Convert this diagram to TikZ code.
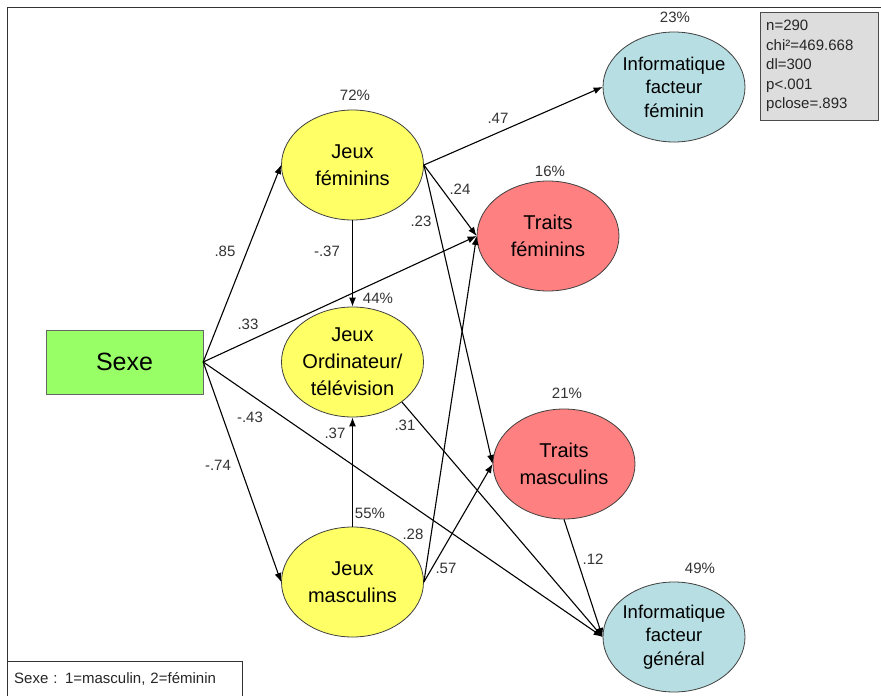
\documentclass[tikz,border=0pt]{standalone}
\usepackage{fontspec}
\setmainfont{Liberation Sans}
\usetikzlibrary{shapes.geometric,arrows.meta}
\definecolor{yel}{RGB}{255,255,102}
\definecolor{pinkred}{RGB}{255,128,128}
\definecolor{lblue}{RGB}{183,222,226}
\definecolor{lgreen}{RGB}{153,255,102}
\definecolor{boxgray}{RGB}{221,221,221}
\begin{document}
\begin{tikzpicture}[x=1pt,y=-1pt,
  ell/.style={ellipse,draw=black!75,line width=0.8pt,minimum width=142pt,minimum height=110pt,
    inner xsep=-12pt,inner ysep=-2pt,align=center,font=\fontsize{20}{27}\selectfont},
  yelnode/.style={ell,fill=yel},
  rednode/.style={ell,fill=pinkred},
  bluenode/.style={ell,fill=lblue,font=\fontsize{18.5}{23.5}\selectfont},
  arr/.style={-{Latex[length=9pt,width=7pt]},line width=1.1pt},
  lab/.style={font=\fontsize{15}{18}\selectfont,text=black!80,inner sep=0pt},
  pct/.style={lab}]
\useasboundingbox (0,0) rectangle (881,696);
\fill[white] (0,0) rectangle (881,696);
% outer frame
\draw[line width=0.9pt,black!80] (7,696) -- (7,7) -- (881,7);

% nodes
\node[draw=black!60,fill=lgreen,minimum width=157pt,minimum height=64pt,inner sep=0pt,
  font=\fontsize{25}{30}\selectfont] (sx) at (124.5,362) {Sexe};
\node[yelnode] (jf) at (352.5,165) {Jeux\\féminins};
\node[yelnode] (jo) at (352.5,362) {Jeux\\Ordinateur/\\télévision};
\node[yelnode] (jm) at (352.5,582) {Jeux\\masculins};
\node[bluenode] (if) at (674,87) {Informatique\\facteur\\féminin};
\node[rednode] (tf) at (548,236) {Traits\\féminins};
\node[rednode] (tm) at (564,464) {Traits\\masculins};
\node[bluenode] (ig) at (674,637) {Informatique\\facteur\\général};

% stats box
\node[draw=black!70,fill=boxgray,anchor=north west,minimum width=118pt,minimum height=108pt,
  inner xsep=6pt,inner ysep=6pt,align=left,text width=106pt,
  font=\fontsize{15}{19.5}\selectfont,text=black!85] (st) at (760,12)
  {n=290\\chi²=469.668\\dl=300\\p<.001\\pclose=.893};

% legend
\node[draw=black!80,fill=white,anchor=north west,minimum width=235pt,minimum height=36pt,
  inner xsep=7pt,align=left,text width=221pt,font=\fontsize{15}{18}\selectfont,text=black!85]
  (lg) at (7,661) {Sexe : 1=masculin, 2=féminin};

% percentages
\node[pct] (p1) at (675,17) {23\%};
\node[pct] (p2) at (355,95) {72\%};
\node[pct] (p3) at (550,171) {16\%};
\node[pct] (p4) at (378,298) {44\%};
\node[pct] (p5) at (567,393) {21\%};
\node[pct] (p6) at (370,513) {55\%};
\node[pct] (p7) at (700,568) {49\%};

% connectors
\draw[arr] (sx.east) -- (jf.west);
\draw[arr] (sx.east) -- (tf.west);
\draw[arr] (sx.east) -- (jm.west);
\draw[arr] (sx.east) -- (ig.west);
\draw[arr] (jf.east) -- (if.west);
\draw[arr] (jf.east) -- (tf.west);
\draw[arr] (jf.east) -- (tm.west);
\draw[arr] (jf.south) -- (jo.north);
\draw[arr] (jm.north) -- (jo.south);
\draw[arr] (jm.east) -- (tf.west);
\draw[arr] (jm.east) -- (tm.west);
\draw[arr] (jo.-39) -- (ig.west);
\draw[arr] (tm.south) -- (ig.west);

% coefficients
\node[lab] (c1) at (225,251) {.85};
\node[lab] (c2) at (248,324) {.33};
\node[lab] (c3) at (250,417) {-.43};
\node[lab] (c4) at (218,465) {-.74};
\node[lab] (c5) at (498,118) {.47};
\node[lab] (c6) at (460,189) {.24};
\node[lab] (c7) at (421,221) {.23};
\node[lab] (c8) at (327,251) {-.37};
\node[lab] (c9) at (335,433) {.37};
\node[lab] (c10) at (405,425) {.31};
\node[lab] (c11) at (413,534) {.28};
\node[lab] (c12) at (446,568) {.57};
\node[lab] (c13) at (593,559) {.12};
\end{tikzpicture}
\end{document}
